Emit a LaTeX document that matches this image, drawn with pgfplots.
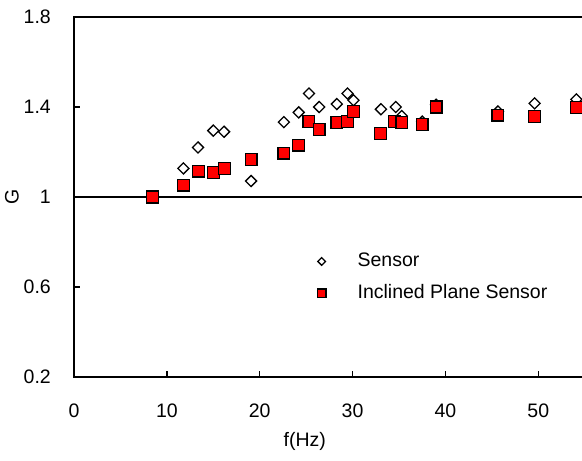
\documentclass[border=0pt]{standalone}
\usepackage{pgfplots}
\pgfplotsset{compat=1.18}
\usepackage{fontspec}
\setmainfont{Liberation Sans}
\begin{document}
\fontsize{19.5bp}{22bp}\selectfont
\begin{tikzpicture}
\begin{axis}[
 scale only axis, width=514bp, height=360bp,
 xmin=0, xmax=55.35, ymin=0.2, ymax=1.8,
 axis line style={line width=1.2bp},
 xtick={0,10,...,50}, ytick={0.2,0.6,1,1.4,1.8},
 yticklabels={0.2,0.6,1,1.4,1.8},
 xtick pos=left, ytick pos=left,
 tick align=inside,
 major tick length=6bp,
 major tick style={draw=black, line width=1.3bp},
 /pgf/number format/assume math mode=true,
 yticklabel style={inner sep=0pt, xshift=-23bp},
 xticklabel style={inner sep=0pt, yshift=-27bp},
 xlabel={f(Hz)}, ylabel={G},
 xlabel style={at={(axis description cs:0.449,0)}, anchor=center, yshift=-64bp},
 ylabel style={at={(axis description cs:0,0.5)}, anchor=center, rotate=0, yshift=62bp},
 legend style={at={(axis cs:26.0,0.76)}, anchor=north west, draw=none, fill=none, inner sep=0pt, row sep=11bp},
 legend cell align=left,
]
\addplot[black, line width=1.2bp, forget plot] coordinates {(0,1) (55.35,1)};
\addplot[only marks, mark=square*, mark size=3.9bp, mark options={fill=white, draw=black, line width=1.3bp, rotate=45},
 legend image code/.code={\draw[mark=square*, mark size=2.7bp, mark options={fill=white, draw=black, line width=1.3bp, rotate=45}] plot coordinates {(0bp,0bp)}; \path[draw=none, fill=none] (-6bp,-6bp) rectangle (34bp,6bp);}]
 coordinates {
 (11.78,1.127) (13.36,1.22) (15.0,1.295) (16.16,1.29) (19.07,1.071)
 (22.6,1.333) (24.2,1.376) (25.3,1.46) (26.4,1.40) (28.3,1.413)
 (29.45,1.46) (30.1,1.43) (33.05,1.39) (34.65,1.40) (35.3,1.36)
 (37.5,1.335) (39.0,1.41) (45.65,1.38) (49.6,1.416) (54.1,1.434)
 };
\addlegendentry{Sensor}
\addplot[only marks, mark=square*, mark size=5.9bp, mark options={fill=red, draw=black, line width=1.3bp},
 legend image code/.code={\draw[mark=square*, mark size=4.3bp, mark options={fill=red, draw=black, line width=1.3bp}] plot coordinates {(0bp,0bp)}; \path[draw=none, fill=none] (-6bp,-6bp) rectangle (34bp,6bp);}]
 coordinates {
 (8.48,1.0) (11.78,1.053) (13.4,1.115) (15.0,1.108) (16.2,1.127)
 (19.07,1.167) (22.6,1.195) (24.2,1.23) (25.3,1.335) (26.4,1.30)
 (28.3,1.33) (29.45,1.335) (30.1,1.38) (33.0,1.283) (34.5,1.335)
 (35.3,1.33) (37.5,1.323) (39.0,1.40) (45.65,1.364) (49.6,1.357)
 (54.1,1.397)
 };
\addlegendentry{Inclined Plane Sensor}
\end{axis}
\pgfresetboundingbox
\path[use as bounding box] ([xshift=-74bp,yshift=-84bp]current axis.south west) rectangle ([xshift=-6bp,yshift=17bp]current axis.north east);
\end{tikzpicture}
\end{document}
